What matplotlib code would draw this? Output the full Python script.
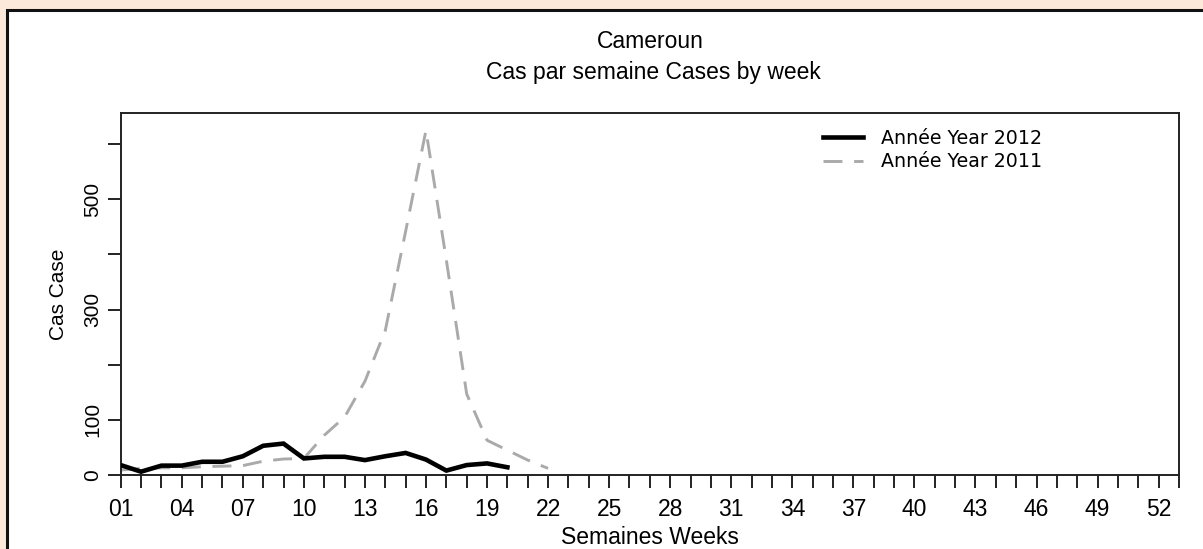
import matplotlib

matplotlib.use("Agg")
import matplotlib.pyplot as plt
from matplotlib.patches import Rectangle

# weekly cases, Cameroon
weeks_2012 = list(range(1, 21))
cases_2012 = [18, 6, 17, 17, 24, 24, 34, 53, 57, 30, 33, 33, 27, 34, 40, 28, 8, 18, 21, 14]
weeks_2011 = list(range(1, 23))
cases_2011 = [9, 12, 13, 13, 15, 16, 17, 25, 29, 30, 72, 105, 170, 262, 442, 625, 390, 147, 63, 45, 27, 12]

xtick_weeks = list(range(1, 54, 3))
ytick_vals = [0, 100, 200, 300, 400, 500, 600]
ytick_labels = ["0", "100", "", "300", "", "500", ""]

W, H = 1203, 549
plt.rcParams["font.family"] = ["Liberation Sans", "DejaVu Sans"]
fig = plt.figure(figsize=(W / 100, H / 100), dpi=100, facecolor="#fde9da")

# white panel with dark frame (cut by the image edges)
fig.patches.append(Rectangle((7 / W, -0.1), 1.2, 1.1 - 10 / H,
                             transform=fig.transFigure, facecolor="white",
                             edgecolor="#111111", linewidth=2.2, zorder=-5))

ax = fig.add_axes([120.7 / W, (H - 475) / H, (1179 - 120.7) / W, (475 - 113.3) / H])
ax.set_zorder(1)
ax.plot(weeks_2011, cases_2011, color="#aaaaaa", lw=2.1, dashes=(6.5, 4),
        label="Année Year 2011", zorder=2)
ax.plot(weeks_2012, cases_2012, color="black", lw=3.3, solid_joinstyle="miter",
        label="Année Year 2012", zorder=3)

ax.set_xlim(1, 53)
ax.set_ylim(0, 656)
ax.set_xticks(range(1, 54))
ax.set_xticklabels([f"{w:02d}" if w in xtick_weeks else "" for w in range(1, 54)])
ax.set_yticks(ytick_vals, ytick_labels)
for lab in ax.get_yticklabels():
    lab.set_rotation(90)
    lab.set_va("center")
ax.tick_params(axis="both", direction="out", length=9.5, width=1.4, color="#222222")
ax.tick_params(axis="x", labelsize=16.5, pad=7)
ax.tick_params(axis="y", labelsize=15, pad=4)
for s in ax.spines.values():
    s.set_linewidth(1.4)
    s.set_color("#222222")

ax.set_xlabel("Semaines Weeks", fontsize=16.5, labelpad=3.5)
ax.set_ylabel("Cas Case", fontsize=15, labelpad=11)

fig.text(650 / W, 1 - 42 / H, "Cameroun", ha="center", va="center", fontsize=16.5)
fig.text(653 / W, 1 - 72 / H, "Cas par semaine Cases by week", ha="center", va="center", fontsize=16.5)

handles, labels = ax.get_legend_handles_labels()
ax.legend(handles[::-1], labels[::-1], loc="upper left",
          bbox_to_anchor=((823 - 120.7) / (1179 - 120.7), (475 - 129) / (475 - 113.3)),
          frameon=False, borderpad=0, borderaxespad=0, handlelength=2.1,
          handletextpad=0.95, labelspacing=0.22,
          prop={"family": "DejaVu Sans", "size": 13.7})

fig.savefig("out.png", dpi=100, facecolor=fig.get_facecolor())
